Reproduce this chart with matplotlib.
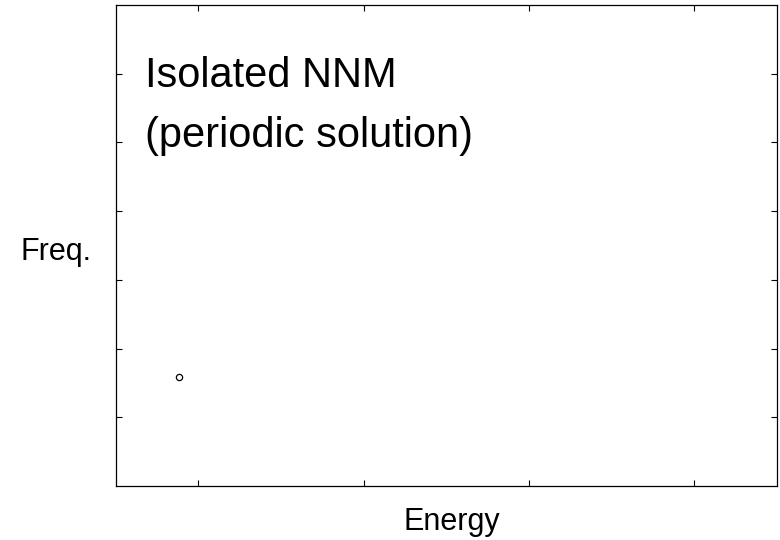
import matplotlib.pyplot as plt

plt.rcParams['font.family'] = ['Liberation Sans', 'DejaVu Sans']

# datos
energia = [0.77]
frecuencia = [1.59]
x_ticks = [1, 3, 5, 7]
y_ticks = [1, 2, 3, 4, 5, 6]
titulo = ["Isolated NNM", "(periodic solution)"]

W, H = 780, 540
fig = plt.figure(figsize=(W / 100, H / 100), dpi=100)
ax = fig.add_axes([115.5 / W, 1 - 486 / H, (777 - 115.5) / W, (486 - 5) / H])

ax.plot(energia, frecuencia, linestyle='none', marker='o', markersize=4.5,
        markerfacecolor='none', markeredgecolor='black', markeredgewidth=0.9)

ax.set_xlim(0, 8)
ax.set_ylim(0, 7)
ax.set_xticks(x_ticks)
ax.set_yticks(y_ticks)
ax.set_xticklabels([])
ax.set_yticklabels([])
ax.tick_params(direction='in', length=4.5, width=0.8, top=True, right=True)
for s in ax.spines.values():
    s.set_linewidth(0.9)

# texto del recuadro, una linea cada vez
for linea, base in zip(titulo, [87, 147]):
    fig.text(145 / W, 1 - base / H, linea, fontsize=30, ha='left', va='baseline')

fig.text(56 / W, 1 - 260 / H, "Freq.", fontsize=22, ha='center', va='baseline')
fig.text(451.5 / W, 1 - 530 / H, "Energy", fontsize=22, ha='center', va='baseline')

fig.savefig("out.png", dpi=100)
